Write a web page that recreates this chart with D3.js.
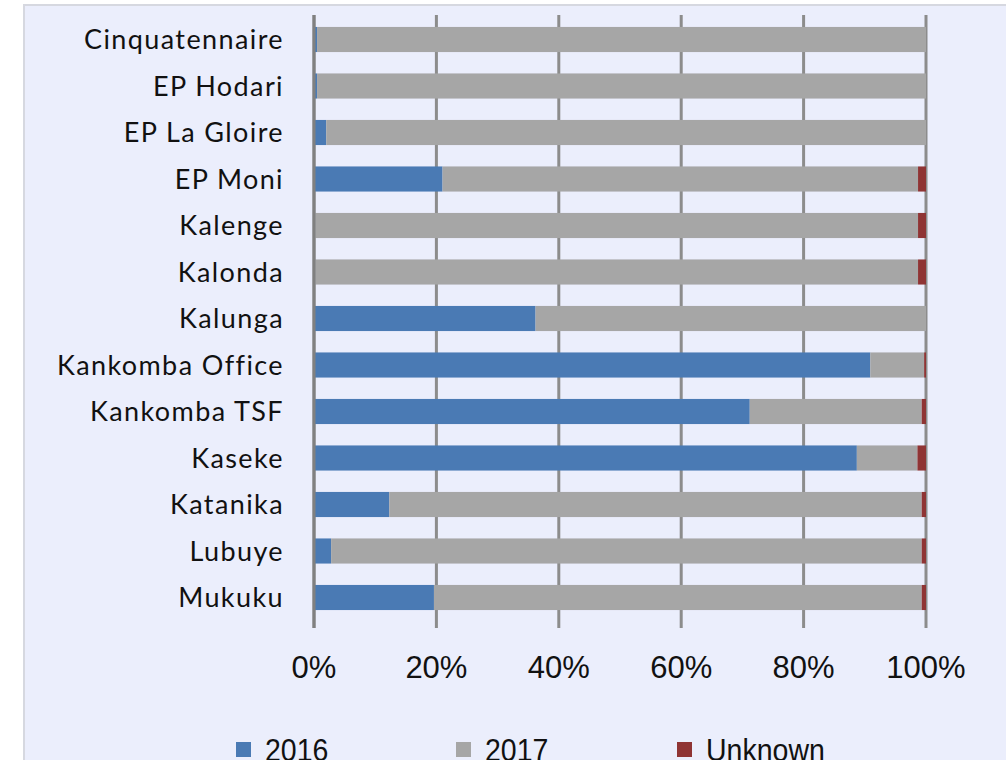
<!DOCTYPE html>
<html>
<head>
<meta charset="utf-8">
<script src="https://cdn.jsdelivr.net/npm/d3@7"></script>
<style>
  html, body { margin: 0; padding: 0; background: #ffffff; }
  svg { display: block; }
</style>
</head>
<body>
<div id="chart"></div>
<script>
// site names, top to bottom
var sites = ["Cinquatennaire", "EP Hodari", "EP La Gloire", "EP Moni", "Kalenge", "Kalonda",
  "Kalunga", "Kankomba Office", "Kankomba TSF", "Kaseke", "Katanika", "Lubuye", "Mukuku"];

// share of each site (%)
var pct2016    = [0.5, 0.5, 2.0, 21.0, 0.2, 0.2, 36.2, 90.9, 71.2, 88.7, 12.3, 2.8, 19.6];
var pct2017    = [99.5, 99.5, 98.0, 77.7, 98.5, 98.5, 63.8, 8.8, 28.1, 9.9, 87.0, 96.5, 79.7];
var pctUnknown = [0, 0, 0, 1.3, 1.3, 1.3, 0, 0.3, 0.7, 1.4, 0.7, 0.7, 0.7];

var seriesNames = ["2016", "2017", "Unknown"];
var seriesColors = ["#4a7ab4", "#a6a6a6", "#8f3434"];
var tickValues = [0, 20, 40, 60, 80, 100];

var width = 1006, height = 760;

var svg = d3.select("#chart").append("svg")
  .attr("width", width)
  .attr("height", height);

// panel background
svg.append("rect")
  .attr("x", 24).attr("y", 5)
  .attr("width", width - 22).attr("height", height)
  .attr("fill", "#ebeefc")
  .attr("stroke", "#d6d8e0")
  .attr("stroke-width", 2);

var rows = sites.map(function(s, i) {
  return {site: s, "2016": pct2016[i], "2017": pct2017[i], "Unknown": pctUnknown[i]};
});

var stack = d3.stack().keys(seriesNames);
var layers = stack(rows);

var x = d3.scaleLinear().domain([0, 100]).range([314, 926]);
var y = d3.scaleBand().domain(sites).range([16.25, 620.75]).paddingInner(0.46).paddingOuter(0.23);

// vertical gridlines (with the tick below the plot)
svg.append("g")
  .selectAll("line")
  .data(tickValues)
  .enter().append("line")
  .attr("x1", function(d) { return x(d); })
  .attr("x2", function(d) { return x(d); })
  .attr("y1", 15)
  .attr("y2", 628)
  .attr("stroke", "#8c8c8c")
  .attr("stroke-width", 3);

// stacked bars
svg.append("g")
  .selectAll("g")
  .data(layers)
  .enter().append("g")
  .attr("fill", function(d, i) { return seriesColors[i]; })
  .selectAll("rect")
  .data(function(d) { return d; })
  .enter().append("rect")
  .attr("x", function(d) { return x(d[0]); })
  .attr("width", function(d) { return Math.max(0, x(d[1]) - x(d[0])); })
  .attr("y", function(d) { return y(d.data.site); })
  .attr("height", y.bandwidth());

// 0% axis line on top
svg.append("line")
  .attr("x1", x(0)).attr("x2", x(0))
  .attr("y1", 15).attr("y2", 628)
  .attr("stroke", "#808080")
  .attr("stroke-width", 3);

// category labels
svg.append("g")
  .selectAll("text")
  .data(sites)
  .enter().append("text")
  .attr("x", 284)
  .attr("y", function(d) { return y(d) + y.bandwidth() / 2; })
  .attr("dy", "0.36em")
  .attr("text-anchor", "end")
  .attr("font-family", "Lato, 'Open Sans', sans-serif")
  .attr("font-size", 27)
  .attr("letter-spacing", 1.4)
  .attr("fill", "#111")
  .text(function(d) { return d; });

// x tick labels
svg.append("g")
  .selectAll("text")
  .data(tickValues)
  .enter().append("text")
  .attr("x", function(d) { return x(d); })
  .attr("y", 678)
  .attr("text-anchor", "middle")
  .attr("font-family", "'Liberation Sans', Arial, sans-serif")
  .attr("font-size", 31)
  .attr("fill", "#111")
  .text(function(d) { return d + "%"; });

// legend
var legendX = [236, 456, 677];
var legend = svg.append("g")
  .selectAll("g")
  .data(seriesNames)
  .enter().append("g")
  .attr("transform", function(d, i) { return "translate(" + legendX[i] + ",0)"; });

legend.append("rect")
  .attr("x", 0).attr("y", 742)
  .attr("width", 15).attr("height", 15)
  .attr("fill", function(d, i) { return seriesColors[i]; });

// narrow legend text, squeezed a little sideways
legend.append("text")
  .attr("transform", "translate(29,761) scale(0.92,1)")
  .attr("font-family", "'Liberation Sans', Arial, sans-serif")
  .attr("font-size", 31)
  .attr("fill", "#111")
  .text(function(d) { return d; });
</script>
</body>
</html>
